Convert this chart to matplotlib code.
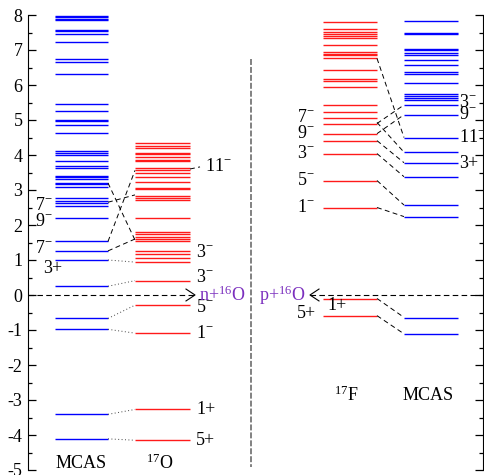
import matplotlib
matplotlib.use("Agg")
import matplotlib.pyplot as plt
from matplotlib.ticker import MultipleLocator

plt.rcParams['font.family'] = ['Liberation Serif', 'DejaVu Serif']
plt.rcParams['mathtext.fontset'] = 'custom'
plt.rcParams['mathtext.rm'] = 'Liberation Serif'
plt.rcParams['mathtext.it'] = 'Liberation Serif:italic'
plt.rcParams['axes.unicode_minus'] = False

# energinivaer (MeV) relativt troskeln
mcas_n = [7.96, 7.93, 7.90, 7.85, 7.56, 7.54, 7.45, 7.24, 6.74, 6.65, 6.31,
          5.46, 5.27, 5.01, 4.98, 4.86, 4.63, 4.12, 4.06, 4.00, 3.82, 3.69,
          3.64, 3.41, 3.36, 3.31, 3.20, 3.16, 3.10, 2.76, 2.69, 2.64, 2.53,
          2.19, 1.53, 1.26, 1.00, 0.25, -0.67, -0.98, -3.41, -4.11]
o17 = [4.33, 4.27, 4.21, 4.06, 4.03, 3.93, 3.85, 3.82, 3.63, 3.58, 3.49,
       3.38, 3.24, 3.07, 3.03, 2.84, 2.77, 2.71, 2.21, 1.80, 1.75, 1.67,
       1.60, 1.55, 1.26, 1.17, 1.06, 0.94, 0.41, -0.29, -1.09, -3.27, -4.15]
f17 = [7.81, 7.61, 7.51, 7.46, 7.41, 7.35, 7.15, 6.95, 6.90, 6.85, 6.76,
       6.43, 6.17, 6.11, 5.95, 5.44, 5.22, 5.07, 4.90, 4.61, 4.41, 4.04,
       3.27, 2.50, -0.10, -0.59]
mcas_p = [7.83, 7.49, 7.45, 7.04, 6.99, 6.92, 6.85, 6.71, 6.56, 6.37, 6.32,
          6.07, 5.74, 5.69, 5.64, 5.57, 5.43, 5.15, 4.50, 4.08, 3.78, 3.38,
          2.57, 2.24, -0.66, -1.11]

# kopplingar (fran, till)
dash_n = [(3.20, 1.57), (2.65, 2.86), (1.53, 3.56), (1.26, 1.60)]
dot_n = [(1.00, 0.94), (0.25, 0.41), (-0.67, -0.29), (-0.98, -1.09),
         (-3.41, -3.27), (-4.11, -4.15)]
dash_p = [(6.76, 4.50), (4.90, 5.43), (4.61, 5.15), (4.93, 4.08),
          (4.41, 3.78), (4.04, 3.38), (3.27, 2.57), (2.50, 2.24),
          (-0.10, -0.64), (-0.59, -1.11)]

# etiketter (text, energi)
lab_mcas_n = [("7$^{-}$", 2.55), ("9$^{-}$", 2.10), ("7$^{-}$", 1.33), ("3+", 0.76)]
lab_o17 = [("11$^{-}$", 3.68), ("3$^{-}$", 1.22), ("3$^{-}$", 0.51),
           ("5$^{-}$", -0.36), ("1$^{-}$", -1.10), ("1+", -3.27), ("5+", -4.15)]
lab_f17 = [("7$^{-}$", 5.07), ("9$^{-}$", 4.61), ("3$^{-}$", 4.03),
           ("5$^{-}$", 3.27), ("1$^{-}$", 2.50), ("5+", -0.53)]
lab_mcas_p = [("3$^{-}$", 5.50), ("9$^{-}$", 5.17), ("11$^{-}$", 4.50), ("3+", 3.75)]

# kolumner i pixelkoordinater
cL = (55, 108)
cO = (135, 190)
cF = (323, 377)
cR = (404, 458)
blue = '#0000ff'
red = '#ff1a1a'
purple = '#7b2fbe'

fig = plt.figure(figsize=(4.84, 4.75), dpi=100)
ax = fig.add_axes([28 / 484, 5 / 475, 455 / 484, 455 / 475])
ax.set_xlim(28, 483)
ax.set_ylim(-5, 8)

ax.hlines(mcas_n, cL[0], cL[1], colors=blue, lw=1.0)
ax.hlines(o17, cO[0], cO[1], colors=red, lw=1.0)
ax.hlines(f17, cF[0], cF[1], colors=red, lw=1.0)
ax.hlines(mcas_p, cR[0], cR[1], colors=blue, lw=1.0)

for a, b in dash_n:
    ax.plot([cL[1], cO[0]], [a, b], color='k', lw=0.7, ls=(0, (5, 3.5)))
for a, b in dot_n:
    ax.plot([cL[1], cO[0]], [a, b], color='#444444', lw=0.7, ls=(0, (1, 2.5)))
for a, b in dash_p:
    ax.plot([cF[1], cR[0]], [a, b], color='k', lw=0.7, ls=(0, (5, 3.5)))
# streck till 11-
ax.plot([cO[1], 200], [3.60, 3.66], color='k', lw=0.7, ls=(0, (5, 3.5)))

# trosklar med pilar
ax.plot([28, 194], [0, 0], color='k', lw=0.8, ls=(0, (5, 3)))
ax.plot([186, 195, 186], [0.17, 0, -0.17], color='k', lw=0.8)
ax.plot([310, 483], [0, 0], color='k', lw=0.8, ls=(0, (5, 3)))
ax.plot([319, 310, 319], [0.17, 0, -0.17], color='k', lw=0.8)

# vertikal avdelare
ax.plot([251, 251], [6.75, -4.9], color='#777777', lw=1.3, ls=(0, (3.3, 1.1)))

fs = 13
for t, e in lab_mcas_n:
    ax.text(35 if t != "3+" else 43, e, t, fontsize=fs, va='center', ha='left')
for t, e in lab_o17:
    x = 205 if t.startswith("11") else 196
    ax.text(x, e, t, fontsize=fs, va='center', ha='left')
for t, e in lab_f17:
    ax.text(297, e, t, fontsize=fs, va='center', ha='left')
ax.text(327, -0.30, "1+", fontsize=fs, va='center', ha='left')
for t, e in lab_mcas_p:
    ax.text(459, e, t, fontsize=fs, va='center', ha='left')

ax.text(199, 0, "n+$^{16}$O", fontsize=fs, color=purple, va='center', ha='left')
ax.text(259, 0, "p+$^{16}$O", fontsize=fs, color=purple, va='center', ha='left')
ax.text(81, -4.82, "MCAS", fontsize=fs, va='center', ha='center')
ax.text(160, -4.82, "$^{17}$O", fontsize=fs, va='center', ha='center')
ax.text(346, -2.87, "$^{17}$F", fontsize=fs, va='center', ha='center')
ax.text(428, -2.87, "MCAS", fontsize=fs, va='center', ha='center')

ax.spines['top'].set_visible(False)
ax.spines['bottom'].set_visible(False)
ax.set_xticks([])
ax.yaxis.set_major_locator(MultipleLocator(1))
ax.yaxis.set_minor_locator(MultipleLocator(0.5))
ax.tick_params(axis='y', which='both', direction='in', left=True, right=True,
               labelleft=True, labelright=False, labelsize=fs, pad=4)
ax.tick_params(axis='y', which='major', length=6, width=0.9)
ax.tick_params(axis='y', which='minor', length=3, width=0.9)

fig.savefig("out.png", dpi=100)
